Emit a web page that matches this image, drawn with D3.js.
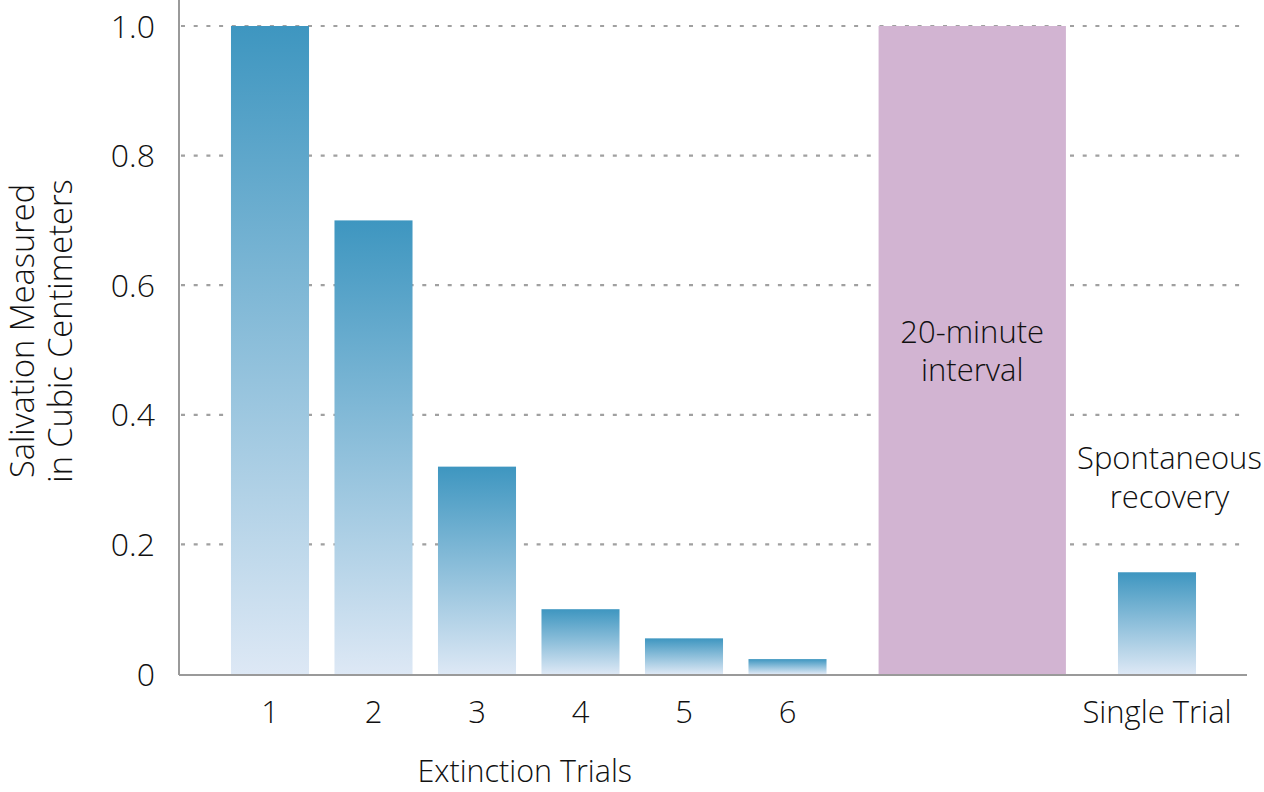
<!DOCTYPE html>
<html><head><meta charset="utf-8">
<script src="https://cdn.jsdelivr.net/npm/d3@7/dist/d3.min.js"></script>
<style>
html,body{margin:0;padding:0;background:#fff;}
svg text{font-family:"Open Sans",sans-serif;font-weight:300;fill:#111;}
</style></head>
<body><svg id="c" width="1264" height="792"></svg>
<script>
const trials = ["1","2","3","4","5","6"];
const salivation = [1.0, 0.70, 0.32, 0.10, 0.055, 0.023];
const recoveryLabel = "Single Trial";
const recoveryValue = 0.157;
const intervalValue = 1.0;
const intervalLabel = ["20-minute","interval"];
const recoveryNote = ["Spontaneous","recovery"];
const yTicks = [0, 0.2, 0.4, 0.6, 0.8, 1.0];
const yTickLabels = ["0","0.2","0.4","0.6","0.8","1.0"];
const xTitle = "Extinction Trials";
const yTitle = ["Salivation Measured","in Cubic Centimeters"];

(function(){
const svg = d3.select("#c");
const mLeft = 179, mRight = 1247, mBottom = 674, mTop = 26;
const y = d3.scaleLinear().domain([0,1]).range([mBottom, mTop]);
// x in "trial slot" units
const x = d3.scaleLinear().domain([0,10]).range([166.5, 1201.5]);
const barW = x(0.754) - x(0);
const slots = {intervalStart: 6.88, intervalEnd: 8.69, single: 9.57, note: 9.69};

const defs = svg.append("defs");
const g = defs.append("linearGradient").attr("id","blueGrad").attr("x1",0).attr("y1",0).attr("x2",0).attr("y2",1);
g.append("stop").attr("offset","0%").attr("stop-color","#3e96c0");
g.append("stop").attr("offset","100%").attr("stop-color","#dde8f5");

// grid
svg.append("g").selectAll("line").data(yTicks.filter(d=>d>0)).join("line")
  .attr("x1", mLeft+2).attr("x2", mRight).attr("y1", d=>y(d)).attr("y2", d=>y(d))
  .attr("stroke","#a0a0a0").attr("stroke-width",2.2).attr("stroke-dasharray","4,8.7");

// interval block
svg.append("rect").attr("x", x(slots.intervalStart)).attr("width", x(slots.intervalEnd)-x(slots.intervalStart))
  .attr("y", y(intervalValue)).attr("height", y(0)-y(intervalValue)).attr("fill","#d2b4d2");

// bars
svg.append("g").selectAll("rect").data(salivation).join("rect")
  .attr("x",(d,i)=>x(i+1)-barW/2).attr("width",barW)
  .attr("y",d=>y(d)).attr("height",d=>y(0)-y(d)).attr("fill","url(#blueGrad)");
svg.append("rect").attr("x", x(slots.single)-barW/2).attr("width",barW)
  .attr("y", y(recoveryValue)).attr("height", y(0)-y(recoveryValue)).attr("fill","url(#blueGrad)");

// axes lines
svg.append("line").attr("x1",mLeft).attr("x2",mLeft).attr("y1",0).attr("y2",mBottom+1).attr("stroke","#9a9a9a").attr("stroke-width",2);
svg.append("line").attr("x1",mLeft).attr("x2",mRight).attr("y1",mBottom+1).attr("y2",mBottom+1).attr("stroke","#9a9a9a").attr("stroke-width",2);

// y tick labels
svg.append("g").selectAll("text").data(yTicks).join("text")
  .attr("x",155).attr("y",d=>y(d)).attr("dy","0.36em").attr("text-anchor","end")
  .attr("font-size",32).text((d,i)=>yTickLabels[i]);

// x tick labels
svg.append("g").selectAll("text").data(trials).join("text")
  .attr("x",(d,i)=>x(i+1)).attr("y",723).attr("text-anchor","middle").attr("font-size",31).text(d=>d);
svg.append("text").attr("x",x(slots.single)).attr("y",723).attr("text-anchor","middle").attr("font-size",31).text(recoveryLabel);

svg.append("text").attr("x",(x(1)+x(6))/2-4).attr("y",782).attr("text-anchor","middle").attr("font-size",30.5).text(xTitle);

// y title
const yt = svg.append("text").attr("transform","translate(0,331) rotate(-90)").attr("text-anchor","middle").attr("font-size",32.5);
yt.append("tspan").attr("x",0).attr("y",34).text(yTitle[0]);
yt.append("tspan").attr("x",0).attr("y",72).text(yTitle[1]);

// annotations
const ia = svg.append("text").attr("text-anchor","middle").attr("font-size",31);
intervalLabel.forEach((t,i)=>ia.append("tspan").attr("x",(x(slots.intervalStart)+x(slots.intervalEnd))/2).attr("y",343+i*38).text(t));
const ra = svg.append("text").attr("text-anchor","middle").attr("font-size",31);
recoveryNote.forEach((t,i)=>ra.append("tspan").attr("x",x(slots.note)).attr("y",469+i*39).text(t));
})();
</script></body></html>
